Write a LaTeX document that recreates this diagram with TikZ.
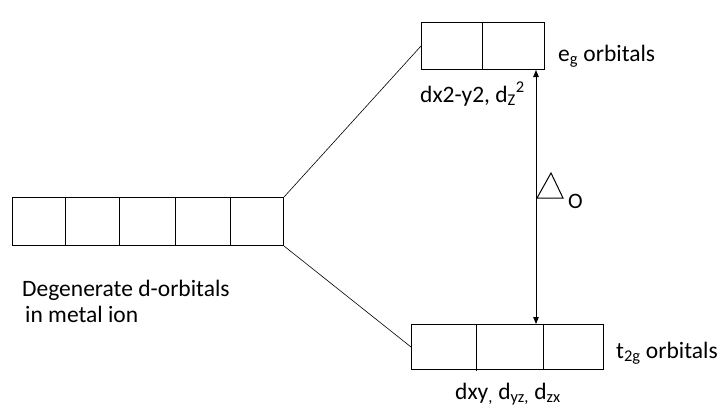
\documentclass[tikz,border=0pt]{standalone}
\usepackage{fontspec}
\setmainfont{Carlito}
\usetikzlibrary{arrows.meta,calc}
\tikzset{
  orbbox/.style={draw, line width=1pt, rectangle, inner sep=0pt, anchor=north west},
  divider/.style={line width=1pt},
  link/.style={line width=0.6pt},
  lbl/.style={font=\fontsize{23.5}{27}\selectfont, inner sep=0pt, anchor=base west},
}
\begin{document}
\begin{tikzpicture}[x=1pt,y=-1pt]
\useasboundingbox (0,0) rectangle (722,413);
% boxes
\node[orbbox, minimum width=271pt, minimum height=48pt] (L) at (12,197) {};
\node[orbbox, minimum width=123pt, minimum height=47pt] (E) at (421,22) {};
\node[orbbox, minimum width=192pt, minimum height=45pt] (T) at (411,324) {};
% dividers
\foreach \x in {65,119,175,230} \draw[divider] (\x,197) -- (\x,245);
\draw[divider] (482,22) -- (482,69);
\draw[divider] (476,324) -- (476,371);
\draw[divider] (543,324) -- (543,369);
% links
\draw[link] (L.north east) -- (E.west);
\draw[link] (L.south east) -- (T.west);
% splitting arrow
\coordinate (ax) at (536,0);
\draw[line width=1pt, {Triangle[length=7pt,width=5.5pt]}-{Triangle[length=7pt,width=5.5pt]}] (E.south -| ax) -- (T.north -| ax);
% delta symbol
\draw[line width=1pt] (537,198) -- (551,173) -- (563,198) -- cycle;
\node[lbl, font=\fontsize{22}{26}\selectfont] (O) at (568,208) {O};
% labels
\node[lbl] (eg) at (558,61) {e\textsubscript{g} orbitals};
\node[lbl] (egd) at (420,102) {dx2-y2, d\textsubscript{Z}\textsuperscript{2}};
\node[lbl] (deg1) at (22,296) {Degenerate d-orbitals};
\node[lbl] (deg2) at (25,322) {in metal ion};
\node[lbl] (t2g) at (616,358) {t\textsubscript{2g} orbitals};
\node[lbl] (t2gd) at (455,399) {dxy\textsubscript{,} d\textsubscript{yz,} d\textsubscript{zx}};
\end{tikzpicture}
\end{document}
